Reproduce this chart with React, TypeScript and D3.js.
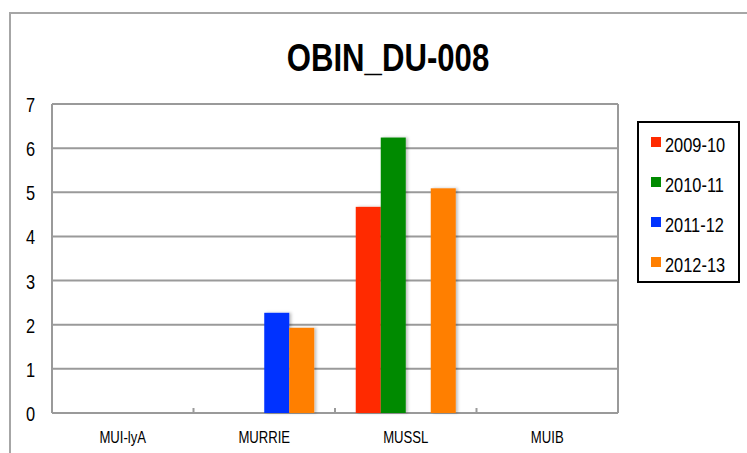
import React from "react";
import * as d3 from "d3";

const categories = ["MUI-lyA", "MURRIE", "MUSSL", "MUIB"];
const seriesNames = ["2009-10", "2010-11", "2011-12", "2012-13"];
const values2009 = [0, 0, 4.67, 0];
const values2010 = [0, 0, 6.24, 0];
const values2011 = [0, 2.27, 0, 0];
const values2012 = [0, 1.93, 5.09, 0];
const yTicks = [0, 1, 2, 3, 4, 5, 6, 7];
const colors = ["#FF2A00", "#008A00", "#0033FF", "#FF7F00"];
const title = "OBIN_DU-008";

const seriesValues = [values2009, values2010, values2011, values2012];

const W = 747;
const H = 453;
const plot = { left: 52, right: 618, top: 104, bottom: 413 };
const font = "'Liberation Sans', Arial, sans-serif";
const grid = "#9a9a9a";
const NARROW = 0.82;

function NText(props: {
  x: number;
  y: number;
  size: number;
  anchor?: string;
  weight?: string;
  children: React.ReactNode;
}) {
  return (
    <text
      transform={`translate(${props.x},${props.y}) scale(${NARROW},1)`}
      textAnchor={props.anchor ?? "start"}
      fontSize={props.size}
      fontWeight={props.weight ?? "normal"}
      fill="#000"
    >
      {props.children}
    </text>
  );
}

export default function App() {
  const x = d3.scaleBand<string>().domain(categories).range([plot.left, plot.right]).padding(0);
  const xi = d3
    .scaleBand<string>()
    .domain(seriesNames)
    .range([0, x.bandwidth()])
    .paddingInner(0)
    .paddingOuter(0.83);
  const y = d3.scaleLinear().domain([0, 7]).range([plot.bottom, plot.top]);

  return (
    <svg
      width={W}
      height={H}
      style={{ position: "absolute", left: 0, top: 0, background: "#fff" }}
      fontFamily={font}
    >
      <defs>
        <filter id="shadow" x="-20%" y="-5%" width="150%" height="115%">
          <feDropShadow dx="2" dy="0" stdDeviation="1.5" floodColor="#000" floodOpacity="0.25" />
        </filter>
      </defs>
      <rect x={0} y={0} width={W} height={H} fill="#fff" />
      <path d={`M10,${H + 2} L10,13 L${W + 2},13`} fill="none" stroke="#a6a6a6" strokeWidth={2} />

      <NText x={388} y={71} size={38} anchor="middle" weight="bold">
        {title}
      </NText>

      {yTicks.map((t) => (
        <line
          key={"g" + t}
          x1={plot.left}
          x2={plot.right}
          y1={y(t)}
          y2={y(t)}
          stroke={grid}
          strokeWidth={2}
        />
      ))}
      <line x1={plot.left} x2={plot.left} y1={plot.top} y2={plot.bottom} stroke={grid} strokeWidth={2} />
      <line x1={plot.right} x2={plot.right} y1={plot.top} y2={plot.bottom} stroke={grid} strokeWidth={2} />
      {categories.slice(1).map((c) => (
        <line
          key={"t" + c}
          x1={x(c)}
          x2={x(c)}
          y1={plot.bottom}
          y2={plot.bottom - 5}
          stroke={grid}
          strokeWidth={2}
        />
      ))}

      {yTicks.map((t) => (
        <NText key={"yl" + t} x={35} y={y(t) + 8} size={20} anchor="end">
          {t}
        </NText>
      ))}

      {seriesValues.map((vals, si) =>
        vals.map((v, ci) =>
          v > 0 ? (
            <rect
              key={`b${si}-${ci}`}
              x={(x(categories[ci]) ?? 0) + (xi(seriesNames[si]) ?? 0)}
              y={y(v)}
              width={xi.bandwidth()}
              height={y(0) - y(v)}
              fill={colors[si]}
              filter="url(#shadow)"
            />
          ) : null
        )
      )}

      {categories.map((c) => (
        <NText key={"xl" + c} x={(x(c) ?? 0) + x.bandwidth() / 2} y={443} size={16} anchor="middle">
          {c}
        </NText>
      ))}

      <rect x={638} y={122} width={101} height={160} fill="#fff" stroke="#000" strokeWidth={2} />
      {seriesNames.map((s, i) => (
        <g key={"lg" + s}>
          <rect x={651} y={137 + i * 40} width={10} height={10} fill={colors[i]} />
          <NText x={665} y={152 + i * 40} size={20}>
            {s}
          </NText>
        </g>
      ))}
    </svg>
  );
}
